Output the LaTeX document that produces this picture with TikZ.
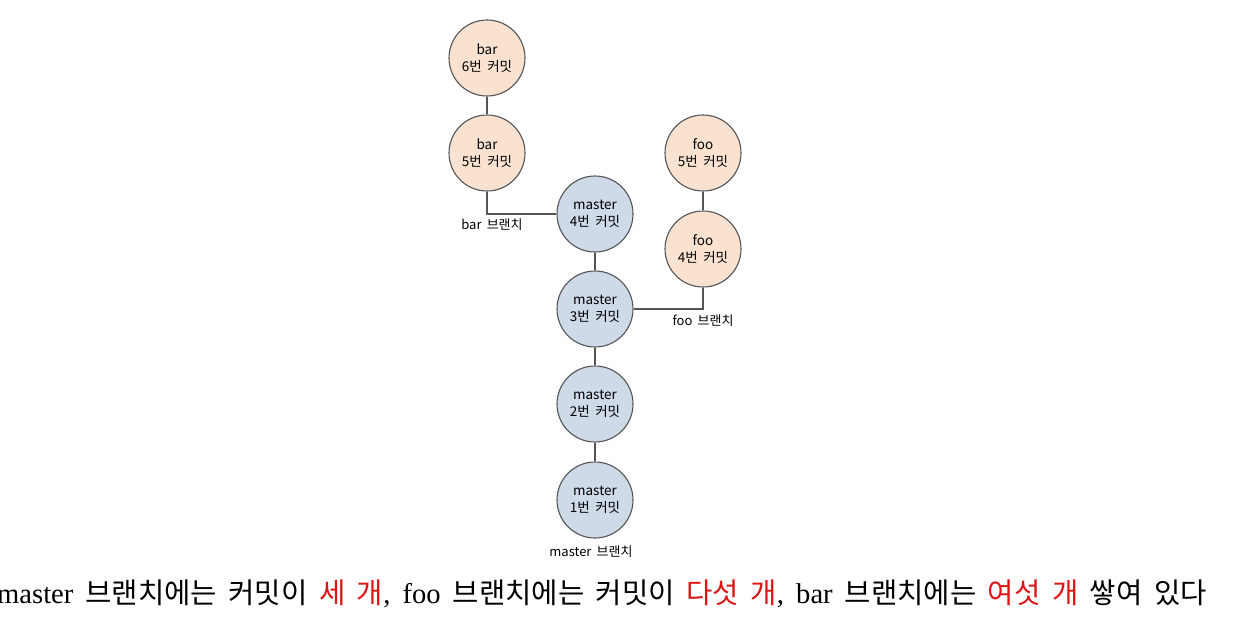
\documentclass[tikz,border=0pt]{standalone}
\usepackage{fontspec}
\setmainfont{Liberation Serif}
\newfontfamily\kor{Noto Sans CJK KR}
\newfontfamily\capserif[WordSpace=1.7]{Liberation Serif}
\newfontfamily\capkor[WordSpace=1.8]{Noto Sans CJK KR}
\usepackage{tikz}

\definecolor{peach}{RGB}{250,226,208}
\definecolor{steel}{RGB}{207,218,233}
\definecolor{edge}{RGB}{85,85,85}
\definecolor{hl}{RGB}{220,20,20}
\tikzset{
  commit/.style={circle,draw=edge,line width=1.1pt,minimum size=76pt,inner sep=0pt,
    align=center,font=\kor\fontsize{13.5}{17}\selectfont},
  barc/.style={commit,fill=peach},
  fooc/.style={commit,fill=peach},
  masterc/.style={commit,fill=steel},
  tag/.style={font=\kor\fontsize{13}{16}\selectfont},
  link/.style={draw=edge,line width=1.1pt}
}

\begin{document}
\begin{tikzpicture}[x=1pt,y=-1pt]
  \useasboundingbox (0,0) rectangle (1241,626);
      \node[barc] (B6) at (487,58) {bar\\6번 커밋};
         \node[barc] (B5) at (487,153) {bar\\5번 커밋};
           \node[masterc] (M4) at (595,214) {master\\4번 커밋};
            \node[masterc] (M3) at (595,309) {master\\3번 커밋};
              \node[masterc] (M2) at (595,404) {master\\2번 커밋};
                 \node[masterc] (M1) at (595,500) {master\\1번 커밋};
                   \node[fooc] (F5) at (703,153) {foo\\5번 커밋};
                \node[fooc] (F4) at (703,249) {foo\\4번 커밋};
  \coordinate (BJ) at (B5 |- M4);
  \coordinate (FJ) at (F4 |- M3);
  \node[tag] (bartag) at (492,225) {bar 브랜치};
  \node[tag] (footag) at (703,321) {foo 브랜치};
  \node[tag] (mastertag) at (591,552) {master 브랜치};
  \draw[link] (B6)--(B5)--(BJ)--(M4)--(M3)--(M2)--(M1);
  \draw[link] (F5)--(F4)--(FJ)--(M3);
  \node[anchor=west,inner sep=0pt,font=\capserif\fontsize{28.6}{33}\selectfont] (caption) at (-3,594)
    {master {\capkor 브랜치에는 커밋이 \textcolor{hl}{세 개}}, foo {\capkor 브랜치에는 커밋이 \textcolor{hl}{다섯 개}}, bar {\capkor 브랜치에는 \textcolor{hl}{여섯 개} 쌓여 있다}};
\end{tikzpicture}
\end{document}
